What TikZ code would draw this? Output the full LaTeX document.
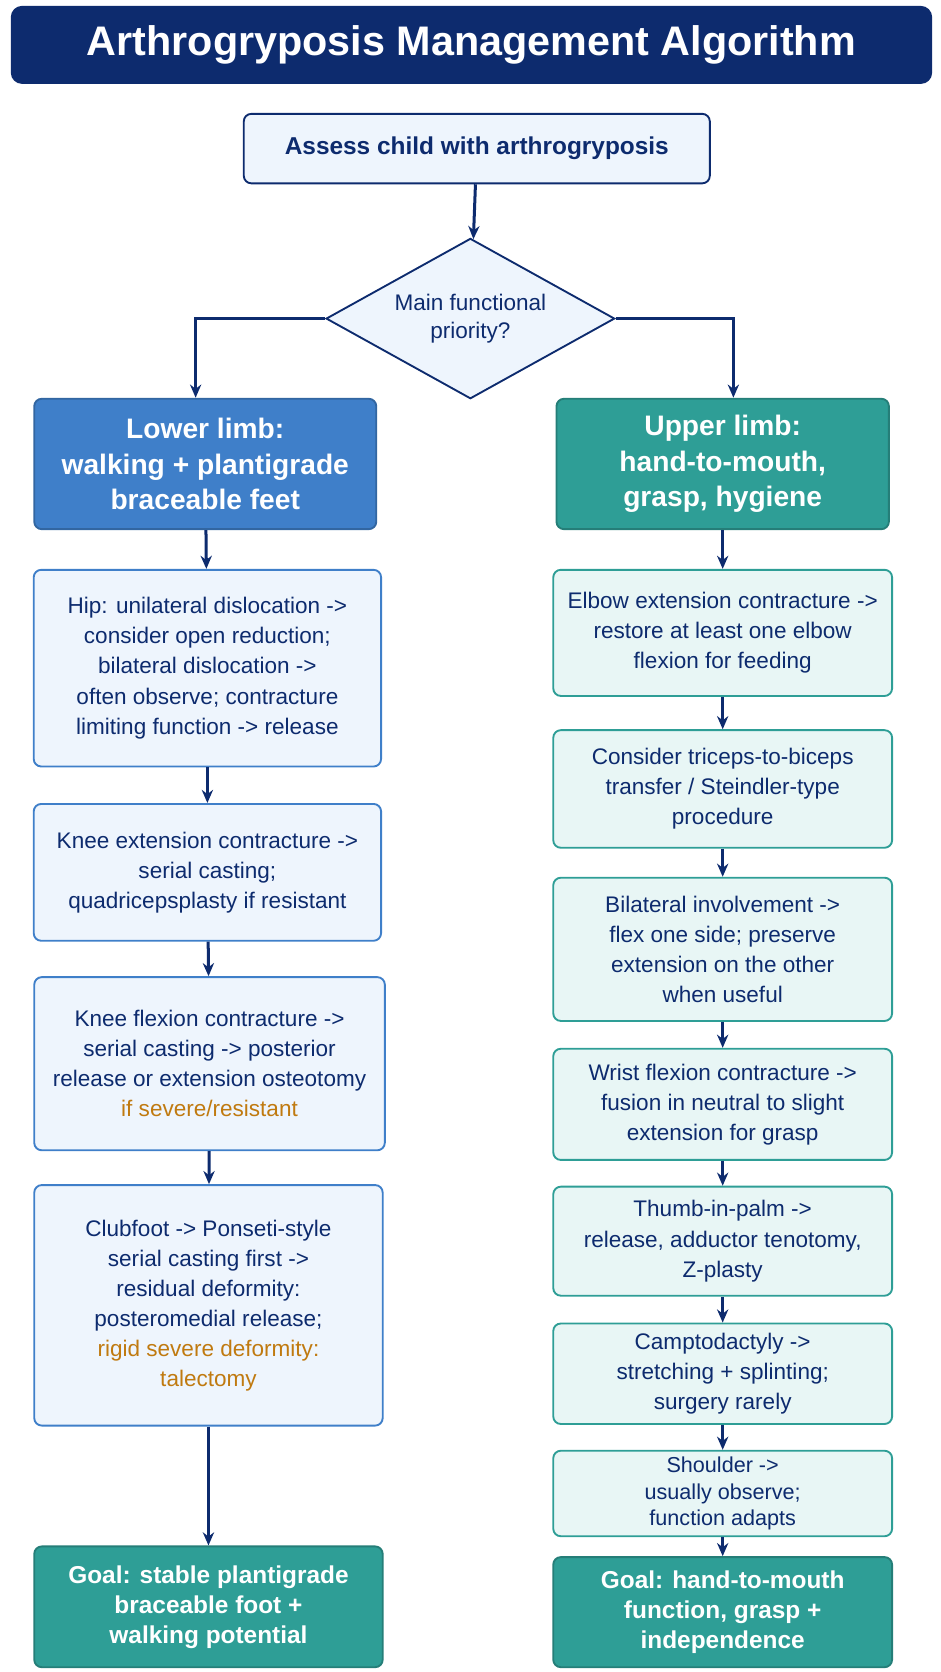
\documentclass[tikz,border=0pt]{standalone}
\usepackage{fontspec}
\setmainfont{Liberation Sans}
\usetikzlibrary{positioning,shapes.geometric,arrows.meta}
\definecolor{navy}{HTML}{0D2B6E}
\definecolor{lowblue}{HTML}{3F7FC9}
\definecolor{lowfill}{HTML}{EEF5FD}
\definecolor{tealc}{HTML}{2E9E96}
\definecolor{upfill}{HTML}{E8F6F5}
\definecolor{warn}{HTML}{C07A10}

\begin{document}
\begin{tikzpicture}[x=0.02cm, y=-0.02cm]
    \tikzstyle{box} = [rectangle, rounded corners=4pt, text centered, align=center, line width=1pt, font=\fontsize{12}{16}\selectfont, text=navy]
    \tikzstyle{lowbox} = [box, draw=lowblue, fill=lowfill, minimum width=6.5cm]
    \tikzstyle{upbox} = [box, draw=tealc, fill=upfill, minimum width=6.34cm]
    \tikzstyle{head} = [box, text=white, font=\bfseries\fontsize{15}{19}\selectfont, minimum height=2.44cm]
    \tikzstyle{goal} = [box, draw=tealc!80!black, fill=tealc, text=white, font=\bfseries\fontsize{13}{16}\selectfont]
    \tikzstyle{link} = [-{Stealth[length=7pt,width=6pt]}, navy, line width=1.6pt]

    \useasboundingbox (0,0) rectangle (880,1564);
    \node [rectangle, rounded corners=6pt, fill=navy, text=white, font=\bfseries\fontsize{22}{26}\selectfont, minimum width=17.24cm, minimum height=1.46cm] (title) at (441,42) {Arthrogryposis Management Algorithm};

    \node [box, draw=navy, fill=lowfill, font=\bfseries\fontsize{13}{16}\selectfont, minimum width=8.72cm, minimum height=1.3cm] (assess) at (446,139) {Assess child with arthrogryposis};
    \node [diamond, draw=navy, fill=lowfill, line width=1pt, aspect=1.8, minimum width=5.4cm, minimum height=3cm, align=center, font=\fontsize{12}{15}\selectfont, text=navy, inner sep=0pt] (priority) at (440,298) {Main functional\\priority?};

    % lower limb column
    \node [head, draw=lowblue!80!black, fill=lowblue, minimum width=6.4cm] (lower) at (192,434) {Lower limb:\\walking + plantigrade\\braceable feet};
    \node [lowbox, minimum height=3.68cm] (hip) at (194,625) {Hip: unilateral dislocation ->\\consider open reduction;\\bilateral dislocation ->\\often observe; contracture\\limiting function -> release};
    \node [lowbox, minimum height=2.56cm] (kneeext) at (194,816) {Knee extension contracture ->\\serial casting;\\quadricepsplasty if resistant};
    \node [lowbox, minimum height=3.24cm, minimum width=6.56cm] (kneeflex) at (196,995) {Knee flexion contracture ->\\serial casting -> posterior\\release or extension osteotomy\\\textcolor{warn}{if severe/resistant}};
    \node [lowbox, minimum height=4.5cm, minimum width=6.52cm] (clubfoot) at (195,1221) {Clubfoot -> Ponseti-style\\serial casting first ->\\residual deformity:\\posteromedial release;\\\textcolor{warn}{rigid severe deformity:}\\\textcolor{warn}{talectomy}};
    \node [goal, minimum width=6.52cm, minimum height=2.26cm] (lowgoal) at (195,1503) {Goal: stable plantigrade\\braceable foot +\\walking potential};

    % upper limb column
    \node [head, draw=tealc!80!black, fill=tealc, minimum width=6.22cm] (upper) at (676,434) {Upper limb:\\hand-to-mouth,\\grasp, hygiene};
    \node [upbox, minimum height=2.36cm] (elbow) at (676,592) {Elbow extension contracture ->\\restore at least one elbow\\flexion for feeding};
    \node [upbox, minimum height=2.2cm] (triceps) at (676,738) {Consider triceps-to-biceps\\transfer / Steindler-type\\procedure};
    \node [upbox, minimum height=2.68cm] (bilat) at (676,888) {Bilateral involvement ->\\flex one side; preserve\\extension on the other\\when useful};
    \node [upbox, minimum height=2.08cm] (wrist) at (676,1033) {Wrist flexion contracture ->\\fusion in neutral to slight\\extension for grasp};
    \node [upbox, minimum height=2.04cm] (thumb) at (676,1161) {Thumb-in-palm ->\\release, adductor tenotomy,\\Z-plasty};
    \node [upbox, minimum height=1.88cm] (campto) at (676,1285) {Camptodactyly ->\\stretching + splinting;\\surgery rarely};
    \node [upbox, minimum height=1.6cm, font=\fontsize{11.5}{14}\selectfont] (shoulder) at (676,1397) {Shoulder ->\\usually observe;\\function adapts};
    \node [goal, minimum width=6.34cm, minimum height=2.06cm] (upgoal) at (676,1508) {Goal: hand-to-mouth\\function, grasp +\\independence};

    \coordinate (lowin) at (183,372);
    \coordinate (upin) at (686,372);

    \draw [link] (assess) -- (priority);
    \draw [link] (priority.west) -| (lowin);
    \draw [link] (priority.east) -| (upin);
    \draw [link] (lower) -- (hip);
    \draw [link] (hip) -- (kneeext);
    \draw [link] (kneeext) -- (kneeflex);
    \draw [link] (kneeflex) -- (clubfoot);
    \draw [link] (clubfoot) -- (lowgoal);
    \draw [link] (upper) -- (elbow);
    \draw [link] (elbow) -- (triceps);
    \draw [link] (triceps) -- (bilat);
    \draw [link] (bilat) -- (wrist);
    \draw [link] (wrist) -- (thumb);
    \draw [link] (thumb) -- (campto);
    \draw [link] (campto) -- (shoulder);
    \draw [link] (shoulder) -- (upgoal);
\end{tikzpicture}
\end{document}
